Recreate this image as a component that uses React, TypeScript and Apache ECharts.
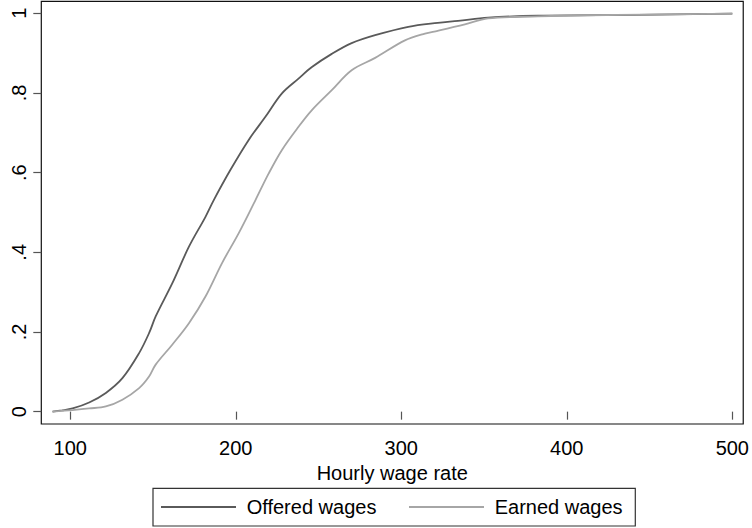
import React, { useEffect, useRef } from "react";
import * as echarts from "echarts";

const offeredX = [89.3, 95, 101.4, 111.4, 121.5, 131.5, 141.6, 147.6, 151.6, 161.6, 171.7, 181.7, 186.7, 196.8, 207.8, 217.9, 227.9, 237.9, 246, 258, 270, 284.2, 304.2, 322, 334.3, 352.4, 382.5, 442.8, 500];
const offeredY = [0.0, 0.003, 0.008, 0.023, 0.047, 0.084, 0.147, 0.197, 0.239, 0.322, 0.414, 0.489, 0.531, 0.607, 0.682, 0.74, 0.799, 0.836, 0.865, 0.898, 0.925, 0.945, 0.966, 0.976, 0.981, 0.989, 0.994, 0.996, 0.999];

const earnedX = [89.3, 101.4, 111.4, 121.5, 131.5, 141.6, 147.6, 151.6, 161.6, 171.7, 181.7, 191.7, 201.8, 211.9, 219.9, 227.9, 237.9, 246, 258, 270, 284.2, 302.2, 314.3, 322, 338.4, 352.4, 382.5, 412.7, 500];
const earnedY = [0.0, 0.004, 0.008, 0.013, 0.03, 0.059, 0.088, 0.118, 0.168, 0.222, 0.289, 0.373, 0.448, 0.531, 0.598, 0.657, 0.715, 0.757, 0.807, 0.857, 0.888, 0.932, 0.949, 0.956, 0.972, 0.987, 0.992, 0.995, 0.999];

const xTicks = [100, 200, 300, 400, 500];
const yTicks = [0, 0.2, 0.4, 0.6, 0.8, 1];
const yTickLabels = ["0", ".2", ".4", ".6", ".8", "1"];
const seriesNames = ["Offered wages", "Earned wages"];
const xTitle = "Hourly wage rate";

const FONT = "'Liberation Sans', Arial, Helvetica, sans-serif";

export default function App() {
  const ref = useRef<HTMLDivElement>(null);
  useEffect(() => {
    if (!ref.current) return;
    const chart = echarts.init(ref.current, null, { renderer: "svg" });
    const zip = (xs: number[], ys: number[]) => xs.map((x, i) => [x, ys[i]]);
    chart.setOption({
      animation: false,
      backgroundColor: "#ffffff",
      textStyle: { fontFamily: FONT },
      grid: {
        left: 41.3,
        right: 6,
        top: 1.3,
        bottom: 104,
        show: true,
        borderColor: "#111111",
        borderWidth: 1.2,
        backgroundColor: "transparent",
      },
      xAxis: {
        type: "value",
        min: 82.5,
        max: 506.6,
        axisLine: { show: false },
        splitLine: { show: false },
        axisTick: {
          show: true,
          length: 8,
          customValues: xTicks,
          lineStyle: { color: "#555555", width: 1.2 },
        },
        axisLabel: {
          customValues: xTicks,
          fontSize: 20,
          color: "#000000",
          fontFamily: FONT,
          margin: 14,
        },
        name: xTitle,
        nameLocation: "middle",
        nameGap: 33,
        nameTextStyle: { fontSize: 20, color: "#000000", fontFamily: FONT },
      },
      yAxis: {
        type: "value",
        min: -0.031,
        max: 1.03,
        axisLine: { show: false },
        splitLine: { show: false },
        axisTick: {
          show: true,
          length: 8,
          customValues: yTicks,
          lineStyle: { color: "#555555", width: 1.2 },
        },
        axisLabel: {
          customValues: yTicks,
          rotate: 90,
          fontSize: 20,
          color: "#000000",
          fontFamily: FONT,
          margin: 12,
          formatter: (v: number) => {
            const i = yTicks.findIndex((t) => Math.abs(t - v) < 1e-6);
            return i >= 0 ? yTickLabels[i] : "";
          },
        },
      },
      legend: {
        left: 161,
        top: 497,
        itemWidth: 75,
        itemHeight: 14,
        itemGap: 32.6,
        padding: 0,
        icon: "path://M0,0 L75,0 L75,2 L0,2 Z",
        textStyle: { fontSize: 20, color: "#000000", fontFamily: FONT, padding: [0, 0, 0, 5.7] },
        data: seriesNames,
      },
      graphic: [
        {
          type: "rect",
          shape: { x: 153, y: 488.3, width: 482.3, height: 37.7 },
          style: { fill: "none", stroke: "#333333", lineWidth: 1.2 },
          silent: true,
        },
      ],
      series: [
        {
          name: seriesNames[0],
          type: "line",
          data: zip(offeredX, offeredY),
          showSymbol: false,
          symbol: "none",
          smooth: 0.35,
          lineStyle: { color: "#5a5a5a", width: 1.8 },
          itemStyle: { color: "#5a5a5a" },
        },
        {
          name: seriesNames[1],
          type: "line",
          data: zip(earnedX, earnedY),
          showSymbol: false,
          symbol: "none",
          smooth: 0.35,
          lineStyle: { color: "#a6a6a6", width: 1.8 },
          itemStyle: { color: "#a6a6a6" },
        },
      ],
    });
    return () => chart.dispose();
  }, []);
  return (
    <div
      ref={ref}
      style={{ position: "absolute", left: 0, top: 0, width: 752, height: 528 }}
    />
  );
}
